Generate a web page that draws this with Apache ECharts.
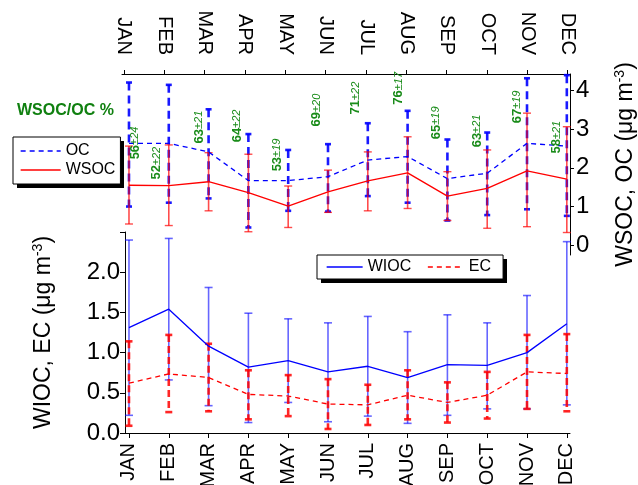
<!DOCTYPE html>
<html>
<head>
<meta charset="utf-8">
<script src="https://cdn.jsdelivr.net/npm/echarts@6/dist/echarts.min.js"></script>
<style>html,body{margin:0;padding:0;background:#fff;}#c{width:638px;height:485px;}</style>
</head>
<body>
<div id="c"></div>
<script>
var months = ['JAN','FEB','MAR','APR','MAY','JUN','JUL','AUG','SEP','OCT','NOV','DEC'];
var ocMean   = [2.63,2.63,2.41,1.67,1.67,1.77,2.20,2.29,1.72,1.86,2.63,2.56];
var ocLow    = [1.00,1.10,1.21,0.46,0.89,0.87,1.27,1.10,0.64,0.78,0.93,0.76];
var ocHigh   = [4.20,4.14,3.51,2.87,2.46,2.61,3.15,3.47,2.73,2.91,4.31,4.39];
var wsocMean = [1.55,1.54,1.64,1.36,1.01,1.38,1.66,1.87,1.27,1.47,1.92,1.71];
var wsocLow  = [0.55,0.51,0.89,0.35,0.46,0.85,0.89,0.95,0.64,0.44,0.48,0.33];
var wsocHigh = [2.56,2.59,2.39,2.35,1.53,1.94,2.41,2.80,1.90,2.46,3.41,3.06];
var wiocMean = [1.31,1.54,1.08,0.82,0.90,0.76,0.83,0.69,0.85,0.84,1.00,1.36];
var wiocLow  = [0.22,0.66,0.34,0.13,0.38,0.14,0.21,0.12,0.22,0.30,0.30,0.35];
var wiocHigh = [2.40,2.42,1.81,1.49,1.42,1.37,1.45,1.26,1.47,1.37,1.71,2.38];
var ecMean   = [0.62,0.735,0.69,0.48,0.46,0.36,0.35,0.47,0.38,0.47,0.76,0.74];
var ecLow    = [0.09,0.26,0.27,0.17,0.21,0.05,0.10,0.17,0.13,0.18,0.30,0.27];
var ecHigh   = [1.14,1.22,1.11,0.78,0.72,0.67,0.60,0.78,0.63,0.76,1.22,1.23];
var ratioPct = [56,52,63,64,53,69,71,76,65,63,67,58];
var ratioSd  = [24,22,21,22,19,20,22,17,19,21,19,21];
// anchor of each ratio label (month units, WSOC/OC axis units)
var ratioX   = [0.15,0.70,1.77,2.72,3.72,4.72,5.70,6.77,7.72,8.75,9.75,10.75];
var ratioY   = [2.64,2.12,3.05,3.08,2.33,3.49,3.80,4.05,3.16,2.95,3.57,2.79];
var topTicks = [0,1,2,3,4];
var botTicks = [0,0.5,1,1.5,2,2.5];
var botLabels = [0,0.5,1,1.5,2];
var monthTicks = [0,1,2,3,4,5,6,7,8,9,10,11];

var GREEN = '#1a8c1a';
var BLUE = '#0000ff';
var RED = '#ff0000';

function pts(arr){ return arr.map(function(v,i){ return [i, v]; }); }
function errData(lo, hi){ return lo.map(function(v,i){ return [i, v, hi[i]]; }); }

function errRender(o){
  return function(params, api){
    var x = api.value(0);
    var a = api.coord([x, api.value(2)]);
    var b = api.coord([x, api.value(1)]);
    var w = o.cap;
    return {
      type: 'group',
      children: [
        {type:'line', shape:{x1:a[0],y1:a[1],x2:b[0],y2:b[1]},
         style:{stroke:o.color, lineWidth:o.width, lineDash:o.dash || null, opacity:o.opacity}},
        {type:'line', shape:{x1:a[0]-w,y1:a[1],x2:a[0]+w,y2:a[1]},
         style:{stroke:o.color, lineWidth:o.capWidth, opacity:o.opacity}},
        {type:'line', shape:{x1:b[0]-w,y1:b[1],x2:b[0]+w,y2:b[1]},
         style:{stroke:o.color, lineWidth:o.capWidth, opacity:o.opacity}}
      ]
    };
  };
}

function ratioRender(params, api){
  var p = api.coord([api.value(0), api.value(1)]);
  var i = params.dataIndex;
  return {
    type: 'text', x: p[0], y: p[1], rotation: Math.PI/2,
    style: {
      text: '{a|' + ratioPct[i] + '}{b|±' + ratioSd[i] + '}',
      align: 'center', verticalAlign: 'middle', fill: GREEN,
      rich: {
        a: {fontSize: 13, fontWeight: 'bold', fill: GREEN, fontFamily: 'Liberation Sans'},
        b: {fontSize: 11, fontStyle: 'italic', fill: GREEN, fontFamily: 'Liberation Sans'}
      }
    }
  };
}

var chart = echarts.init(document.getElementById('c'), null, {renderer: 'canvas'});
var FONT = 'Liberation Sans';
var supRich = {s: {fontSize: 14, fontFamily: FONT, color: '#000', padding: [0,0,12,0]}};
var noSym = {color: 'rgba(0,0,0,0)', borderWidth: 0, opacity: 0};

var option = {
  backgroundColor: '#fff',
  animation: false,
  textStyle: {fontFamily: FONT},
  title: {
    text: 'WSOC/OC %', left: 17, top: 103, padding: 0,
    textStyle: {fontSize: 16, fontWeight: 'bold', color: '#108010', fontFamily: FONT}
  },
  // drop shadows behind the two legend boxes
  graphic: [
    {type: 'rect', z: 1, silent: true, shape: {x: 17, y: 141, width: 107, height: 47}, style: {fill: '#000'}},
    {type: 'rect', z: 1, silent: true, shape: {x: 321, y: 259, width: 186, height: 24}, style: {fill: '#000'}}
  ],
  legend: [
    {
      orient: 'vertical', left: 13, top: 137, z: 10,
      padding: [6,5,6,7], itemGap: 3, itemWidth: 40, itemHeight: 14,
      backgroundColor: '#fff', borderColor: '#000', borderWidth: 1,
      textStyle: {fontSize: 16, color: '#000', fontFamily: FONT},
      data: [
        {name: 'OC', itemStyle: noSym, lineStyle: {type: [5,4], color: BLUE, width: 1.3}},
        {name: 'WSOC', itemStyle: noSym, lineStyle: {type: 'solid', color: RED, width: 1.3}}
      ]
    },
    {
      orient: 'horizontal', left: 317, top: 255, z: 10,
      padding: [4,12,4,9], itemGap: 16, itemWidth: 36, itemHeight: 14,
      backgroundColor: '#fff', borderColor: '#000', borderWidth: 1,
      textStyle: {fontSize: 16, color: '#000', fontFamily: FONT},
      data: [
        {name: 'WIOC', itemStyle: noSym, lineStyle: {type: 'solid', color: BLUE, width: 1.3}},
        {name: 'EC', itemStyle: noSym, lineStyle: {type: [5,4], color: RED, width: 1.3}}
      ]
    }
  ],
  grid: [
    {left: 125, right: 68, top: 74, height: 181, outerBoundsMode: 'none', containLabel: false},
    {left: 125, right: 68, top: 232, height: 201, outerBoundsMode: 'none', containLabel: false},
    {left: 122, right: 68, top: 74, height: 181, outerBoundsMode: 'none', containLabel: false}
  ],
  xAxis: [
    {gridIndex: 0, type: 'value', min: -0.1, max: 11.08, show: false},
    {gridIndex: 1, type: 'value', min: -0.1, max: 11.08, position: 'bottom',
     axisLine: {show: true, onZero: false, lineStyle: {color: '#000', width: 1}},
     axisTick: {show: true, inside: false, length: 5, customValues: monthTicks, lineStyle: {color: '#000'}},
     axisLabel: {show: true, rotate: 90, margin: 10, fontSize: 20, color: '#000', fontFamily: FONT,
                 customValues: monthTicks, formatter: function(v){ return months[Math.round(v)]; }},
     splitLine: {show: false}},
    {gridIndex: 2, type: 'value', min: -0.0496, max: 11.057, position: 'top',
     axisLine: {show: true, onZero: false, lineStyle: {color: '#000', width: 1}},
     axisTick: {show: true, inside: false, length: 4, customValues: monthTicks, lineStyle: {color: '#000'}},
     axisLabel: {show: true, rotate: 90, margin: 19, fontSize: 20, color: '#000', fontFamily: FONT,
                 customValues: monthTicks, formatter: function(v){ return months[Math.round(v)]; }},
     splitLine: {show: false}}
  ],
  yAxis: [
    {gridIndex: 0, type: 'value', position: 'right', min: -0.25, max: 4.42,
     name: 'WSOC, OC (μg m{s|-3})', nameLocation: 'middle', nameRotate: 90, nameGap: 43,
     nameTextStyle: {fontSize: 23, color: '#000', fontFamily: FONT, rich: supRich},
     axisLine: {show: true, onZero: false, lineStyle: {color: '#000', width: 1}},
     axisTick: {show: true, inside: false, length: 4, customValues: topTicks, lineStyle: {color: '#000'}},
     axisLabel: {show: true, margin: 6, fontSize: 24, color: '#000', fontFamily: FONT, customValues: topTicks},
     splitLine: {show: false}},
    {gridIndex: 1, type: 'value', position: 'left', min: 0, max: 2.5,
     name: 'WIOC, EC (μg m{s|-3})', nameLocation: 'middle', nameRotate: 90, nameGap: 68,
     nameTextStyle: {fontSize: 23, color: '#000', fontFamily: FONT, rich: supRich},
     axisLine: {show: true, onZero: false, lineStyle: {color: '#000', width: 1}},
     axisTick: {show: true, inside: false, length: 5, customValues: botTicks, lineStyle: {color: '#000'}},
     axisLabel: {show: true, margin: 5, fontSize: 24, color: '#000', fontFamily: FONT, customValues: botLabels,
                 formatter: function(v){ return v.toFixed(1); }},
     splitLine: {show: false}},
    {gridIndex: 2, type: 'value', min: 0, max: 1, show: false}
  ],
  series: [
    // bottom panel
    {name: 'wiocErr', type: 'custom', xAxisIndex: 1, yAxisIndex: 1, clip: false, z: 2,
     renderItem: errRender({color: BLUE, width: 1.6, capWidth: 1.6, cap: 4, opacity: 0.6}),
     data: errData(wiocLow, wiocHigh)},
    {name: 'ecErr', type: 'custom', xAxisIndex: 1, yAxisIndex: 1, clip: false, z: 3,
     renderItem: errRender({color: RED, width: 2.6, capWidth: 2.6, cap: 3.5, dash: [7,4], opacity: 0.85}),
     data: errData(ecLow, ecHigh)},
    {name: 'WIOC', type: 'line', xAxisIndex: 1, yAxisIndex: 1, symbol: 'none', z: 4,
     lineStyle: {color: BLUE, width: 1.3, type: 'solid'}, itemStyle: {color: BLUE},
     data: pts(wiocMean)},
    {name: 'EC', type: 'line', xAxisIndex: 1, yAxisIndex: 1, symbol: 'none', z: 4,
     lineStyle: {color: RED, width: 1.3, type: [5,4]}, itemStyle: {color: RED},
     data: pts(ecMean)},
    // top panel
    {name: 'ocErr', type: 'custom', xAxisIndex: 0, yAxisIndex: 0, clip: false, z: 5,
     renderItem: errRender({color: BLUE, width: 2.6, capWidth: 2.6, cap: 3, dash: [8,5], opacity: 0.9}),
     data: errData(ocLow, ocHigh)},
    {name: 'wsocErr', type: 'custom', xAxisIndex: 0, yAxisIndex: 0, clip: false, z: 6,
     renderItem: errRender({color: RED, width: 1.6, capWidth: 1.4, cap: 4, opacity: 0.7}),
     data: errData(wsocLow, wsocHigh)},
    {name: 'OC', type: 'line', xAxisIndex: 0, yAxisIndex: 0, symbol: 'none', z: 7,
     lineStyle: {color: BLUE, width: 1.3, type: [5,4]}, itemStyle: {color: BLUE},
     data: pts(ocMean)},
    {name: 'WSOC', type: 'line', xAxisIndex: 0, yAxisIndex: 0, symbol: 'none', z: 7,
     lineStyle: {color: RED, width: 1.3, type: 'solid'}, itemStyle: {color: RED},
     data: pts(wsocMean)},
    {name: 'ratio', type: 'custom', xAxisIndex: 0, yAxisIndex: 0, clip: false, z: 8,
     renderItem: ratioRender,
     data: ratioX.map(function(x,i){ return [x, ratioY[i]]; })}
  ]
};
chart.setOption(option);
</script>
</body>
</html>
